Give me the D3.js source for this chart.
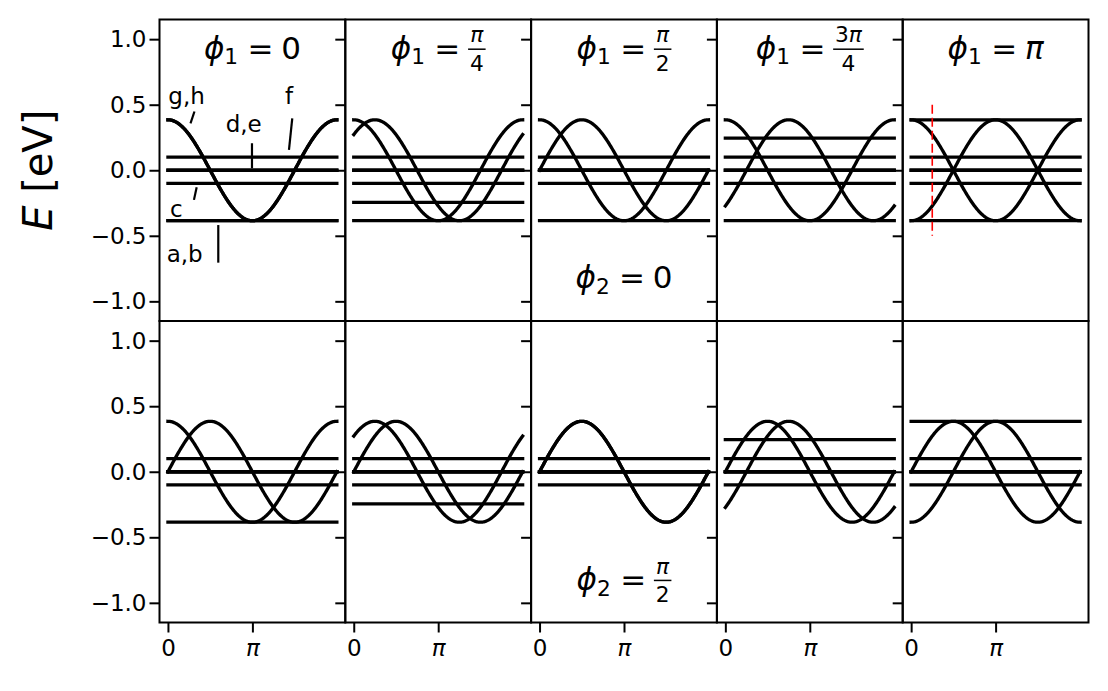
<!DOCTYPE html>
<html><head><meta charset="utf-8">
<script src="https://cdn.jsdelivr.net/npm/d3@7"></script>
<style>body{margin:0;background:#fff} text{font-family:"DejaVu Sans",sans-serif;fill:#000}</style>
</head><body>
<svg id="chart" width="1108" height="691"></svg>
<script>
// ---------------- data (phases in units of π) ----------------
const phi1Values = [0, 0.25, 0.5, 0.75, 1];
const phi1Labels = ["0", "π/4", "π/2", "3π/4", "π"];
const phi2Values = [0, 0.5];
const phi2Labels = ["0", "π/2"];
const bandAmplitude = 0.385;              // dispersive bands g,h : E = A cos(k - φ)
const fixedLevels = [0.1, 0.0, 0.0, -0.1]; // flat bands f, d, e, c
const phaseLevelPhases = [0, 0.25, 0.5, 0.75, 1];
const phaseLevels = [-0.385, -0.245, 0.0, 0.245, 0.385]; // flat band tied to each φ
const yTicks = [-1, -0.5, 0, 0.5, 1];
const xTicks = [0, 1];
const xTickLabels = ["0", "π"];
const kSamples = d3.range(0, 241).map(i => i / 120); // k from 0 to 2π
const markerK = 0.25;
const markerRange = [-0.5, 0.5];
const annotations = [
  {label: "g,h", tx: 0.004, ty: 0.505, x1: 0.267, y1: 0.357, x2: 0.314, y2: 0.448},
  {label: "d,e", tx: 0.684, ty: 0.294, x1: 0.995, y1: 0.015, x2: 0.995, y2: 0.206},
  {label: "f",   tx: 1.386, ty: 0.505, x1: 1.433, y1: 0.155, x2: 1.472, y2: 0.396},
  {label: "c",   tx: 0.024, ty: -0.354, x1: 0.308, y1: -0.226, x2: 0.340, y2: -0.130},
  {label: "a,b", tx: -0.015, ty: -0.698, x1: 0.596, y1: -0.705, x2: 0.596, y2: -0.418}
];

// ---------------- layout ----------------
const svg = d3.select("#chart");
const L = 159.5, R = 1088.5, T = 19.5, B = 622.5;
const W = (R - L) / 5, H = (B - T) / 2;
const lw = 3.3;
const tickFs = 23, titleFs = 31, annFs = 23;
const levelFor = p => phaseLevels[phaseLevelPhases.indexOf(p)];

function mathLabel(g, cx, baseline, sub, value, S) {
  const grp = g.append("g");
  let x = 0;
  const t1 = grp.append("text").attr("x", x).attr("y", 0).attr("font-size", S)
    .attr("font-style", "italic").text("ϕ");
  x += t1.node().getComputedTextLength();
  const t2 = grp.append("text").attr("x", x).attr("y", 0.19 * S).attr("font-size", 0.7 * S).text(sub);
  x += t2.node().getComputedTextLength() + 0.3 * S;
  const t3 = grp.append("text").attr("x", x).attr("y", 0).attr("font-size", S).text("=");
  x += t3.node().getComputedTextLength() + 0.25 * S;
  const addVal = (t, s) => {
    s.split("").forEach(ch => {
      t.append("tspan").attr("font-style", ch === "π" ? "italic" : "normal").text(ch);
    });
  };
  if (value.includes("/")) {
    const [num, den] = value.split("/");
    const fs = 0.7 * S;
    const tn = grp.append("text").attr("y", -0.3 * S - 0.22 * S).attr("font-size", fs).attr("text-anchor", "middle");
    addVal(tn, num);
    const td = grp.append("text").attr("y", -0.3 * S + 0.7 * S).attr("font-size", fs).attr("text-anchor", "middle");
    addVal(td, den);
    const w = Math.max(tn.node().getComputedTextLength(), td.node().getComputedTextLength()) + 0.12 * S;
    tn.attr("x", x + w / 2); td.attr("x", x + w / 2);
    grp.append("line").attr("x1", x).attr("x2", x + w).attr("y1", -0.3 * S).attr("y2", -0.3 * S)
      .attr("stroke", "#000").attr("stroke-width", 1.5);
    x += w;
  } else {
    const tv = grp.append("text").attr("x", x).attr("y", 0).attr("font-size", S);
    addVal(tv, value);
    x += tv.node().getComputedTextLength();
  }
  grp.attr("transform", `translate(${cx - x / 2},${baseline})`);
}

const lineGen = (xs, ys, phase) => d3.line()
  .x(k => xs(k)).y(k => ys(bandAmplitude * Math.cos(Math.PI * (k - phase))));

phi2Values.forEach((phi2, row) => {
  phi1Values.forEach((phi1, col) => {
    const x0 = L + col * W, y0 = T + row * H;
    const xs = d3.scaleLinear().domain([-0.1, 2.1]).range([x0, x0 + W]);
    const ys = d3.scaleLinear().domain([-1.15, 1.15]).range([y0 + H, y0]);
    const g = svg.append("g");

    // flat bands
    const levels = fixedLevels.concat([levelFor(phi1), levelFor(phi2)]);
    g.selectAll("line.flat").data(levels).join("line").attr("class", "flat")
      .attr("x1", xs(0)).attr("x2", xs(2)).attr("y1", d => ys(d)).attr("y2", d => ys(d))
      .attr("stroke", "#000").attr("stroke-width", lw).attr("stroke-linecap", "square");
    // dispersive bands
    g.selectAll("path.band").data([phi1, phi2]).join("path").attr("class", "band")
      .attr("d", p => lineGen(xs, ys, p)(kSamples))
      .attr("fill", "none").attr("stroke", "#000").attr("stroke-width", lw)
      .attr("stroke-linecap", "square").attr("stroke-linejoin", "round");

    // red marker in top-right panel
    if (row === 0 && col === 4) {
      g.append("line").attr("x1", xs(markerK)).attr("x2", xs(markerK))
        .attr("y1", ys(markerRange[1])).attr("y2", ys(markerRange[0]))
        .attr("stroke", "red").attr("stroke-width", 1.6).attr("stroke-dasharray", "9,4");
    }
    // annotations
    if (row === 0 && col === 0) {
      annotations.forEach(a => {
        g.append("text").attr("x", xs(a.tx)).attr("y", ys(a.ty)).attr("font-size", annFs).text(a.label);
        g.append("line").attr("x1", xs(a.x1)).attr("y1", ys(a.y1)).attr("x2", xs(a.x2)).attr("y2", ys(a.y2))
          .attr("stroke", "#000").attr("stroke-width", 2.2);
      });
    }

    // spines
    g.append("rect").attr("x", x0).attr("y", y0).attr("width", W).attr("height", H)
      .attr("fill", "none").attr("stroke", "#000").attr("stroke-width", 2);

    // y axis
    const ya = g.append("g").attr("transform", `translate(${x0},0)`)
      .call(d3.axisLeft(ys).tickValues(yTicks).tickSize(10).tickPadding(3)
        .tickFormat(col === 0 ? d3.format(".1f") : () => ""));
    ya.select(".domain").remove();
    ya.selectAll(".tick line").attr("stroke", "#000").attr("stroke-width", 2);
    ya.selectAll(".tick text").attr("font-size", tickFs).attr("font-family", "DejaVu Sans").attr("fill", "#000");

    // x axis (bottom row only)
    if (row === 1) {
      const xa = g.append("g").attr("transform", `translate(0,${y0 + H})`)
        .call(d3.axisBottom(xs).tickValues(xTicks).tickSize(10).tickPadding(7)
          .tickFormat((d, i) => xTickLabels[i]));
      xa.select(".domain").remove();
      xa.selectAll(".tick line").attr("stroke", "#000").attr("stroke-width", 2);
      xa.selectAll(".tick text").attr("font-size", tickFs).attr("font-family", "DejaVu Sans").attr("fill", "#000")
        .attr("font-style", (d, i) => xTickLabels[i] === "π" ? "italic" : "normal");
    }

    // titles
    if (row === 0) mathLabel(g, x0 + W / 2, y0 + 39, "1", phi1Labels[col], titleFs);
    if (col === 2) mathLabel(g, xs(1), ys(-0.9), "2", phi2Labels[row], titleFs);
  });
});

// y label
const yl = svg.append("text").attr("transform", `translate(52,${T + H / 2}) rotate(-90)`)
  .attr("text-anchor", "middle").attr("font-size", 40);
yl.append("tspan").attr("font-style", "italic").text("E");
yl.append("tspan").text(" [eV]");
</script>
</body></html>
